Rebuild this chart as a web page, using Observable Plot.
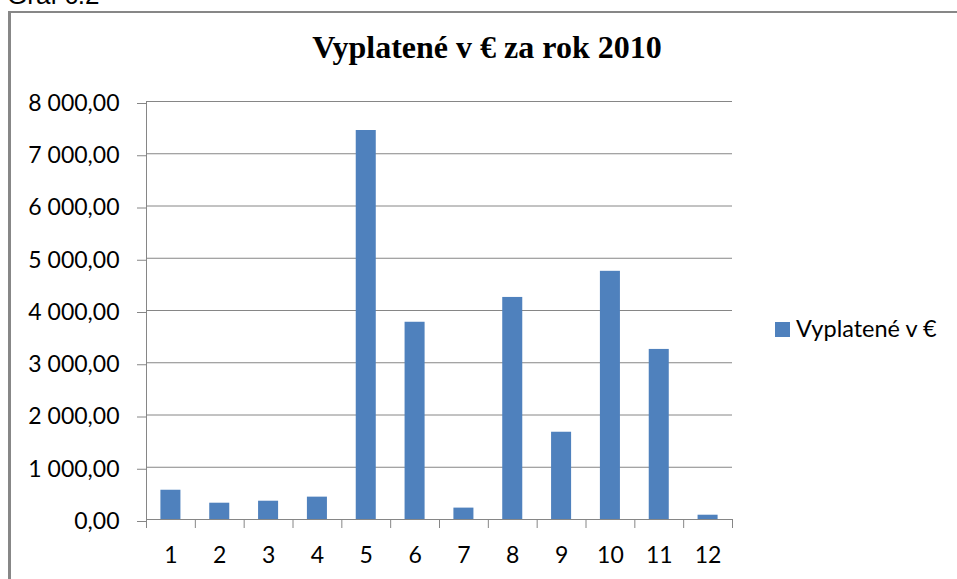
<!DOCTYPE html>
<html>
<head>
<meta charset="utf-8">
<script src="https://cdn.jsdelivr.net/npm/d3@7"></script>
<script src="https://cdn.jsdelivr.net/npm/@observablehq/plot@0.6"></script>
<style>
  body { margin: 0; background: #fff; }
  #wrap { position: relative; width: 957px; height: 579px; overflow: hidden; background: #fff; }
  #cap { position: absolute; left: 7px; top: -18px; font: 26px "Liberation Sans", Arial, sans-serif; line-height: 1; color: #000; white-space: nowrap; }
  #frame { position: absolute; left: 8px; top: 11px; width: 1200px; height: 1000px; border-left: 3px solid #878787; border-top: 2px solid #878787; }
  #plot { position: absolute; left: 0; top: 0; }
  #title { position: absolute; left: 0; top: 31px; width: 974px; text-align: center; font: bold 32px "Liberation Serif", "Times New Roman", serif; line-height: 1; color: #000; white-space: nowrap; }
  #legend { position: absolute; left: 775px; top: 317px; font: 23.5px Lato, sans-serif; line-height: 1; color: #000; white-space: nowrap; }
  #legend .sw { position: absolute; left: 0; top: 5px; width: 15px; height: 15px; background: #4F81BD; }
  #legend .lb { position: absolute; left: 21px; top: 0; }
</style>
</head>
<body>
<div id="wrap">
  <div id="cap">Graf č.2</div>
  <div id="frame"></div>
  <div id="plot"></div>
  <div id="title"></div>
  <div id="legend"><div class="sw"></div><span class="lb"></span></div>
</div>
<script>
const titleText = "Vyplatené v € za rok 2010";
const seriesName = "Vyplatené v €";
const categories = ["1","2","3","4","5","6","7","8","9","10","11","12"];
const values = [560, 312, 350, 428, 7445, 3775, 218, 4250, 1670, 4750, 3255, 82];
const yTicks = [0, 1000, 2000, 3000, 4000, 5000, 6000, 7000, 8000];

document.getElementById("title").textContent = titleText;
document.querySelector("#legend .lb").textContent = seriesName;

const data = categories.map((c, i) => ({month: c, value: values[i]}));
const fmt = d3.formatLocale({decimal: ",", thousands: "\u00a0", grouping: [3], currency: ["", "€"]}).format(",.2f");

const W = 957, H = 579, mL = 146, mR = 225, mT = 101, mB = 60;
const step = (W - mL - mR) / categories.length;
const half = step / 2;
const pxPerUnit = (H - mT - mB) / 8000;
const tickLenUnits = 9 / pxPerUnit;
const grey = "#868686";
const font = "Lato, sans-serif";

const chart = Plot.plot({
  width: W,
  height: H,
  marginLeft: mL,
  marginRight: mR,
  marginTop: mT,
  marginBottom: mB,
  style: {background: "transparent", color: "#000", overflow: "visible"},
  x: {type: "band", domain: categories, paddingInner: 0.59, paddingOuter: 0.295, round: false, label: null},
  y: {domain: [0, 8000], label: null},
  marks: [
    Plot.gridY(yTicks, {stroke: grey, strokeOpacity: 1, strokeWidth: 1}),
    Plot.barY(data, {x: "month", y: "value", fill: "#4F81BD"}),
    Plot.ruleX([categories[0]], {x: d => d, dx: -half, y1: 0, y2: 8000, stroke: grey, strokeWidth: 1}),
    Plot.ruleX(categories, {x: d => d, dx: -half, y1: 0, y2: -tickLenUnits, stroke: grey, strokeWidth: 1}),
    Plot.ruleX([categories[categories.length - 1]], {x: d => d, dx: half, y1: 0, y2: -tickLenUnits, stroke: grey, strokeWidth: 1}),
    Plot.axisY(yTicks, {tickSize: 9, tickPadding: 18, tickFormat: fmt, stroke: grey, fill: "#000", fontSize: 23, fontFamily: font, dy: 2}),
    Plot.axisX({tickSize: 0, tickPadding: 27, fill: "#000", fontSize: 23, fontFamily: font})
  ]
});
document.getElementById("plot").appendChild(chart);
</script>
</body>
</html>
